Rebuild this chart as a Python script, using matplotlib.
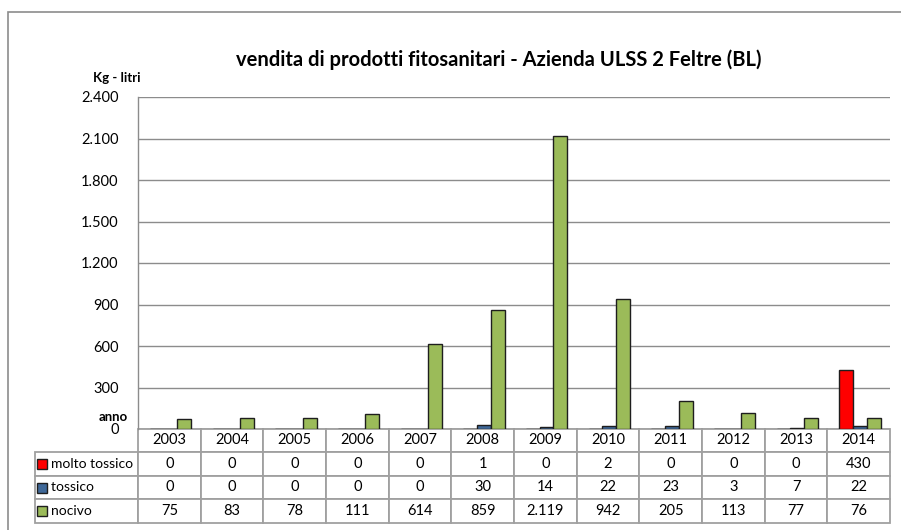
import matplotlib
matplotlib.use("Agg")
import matplotlib.pyplot as plt
import numpy as np
from matplotlib.patches import Rectangle

plt.rcParams['font.family'] = ['Lato', 'DejaVu Sans']

years = ["2003", "2004", "2005", "2006", "2007", "2008",
         "2009", "2010", "2011", "2012", "2013", "2014"]
series_names = ["molto tossico", "tossico", "nocivo"]
molto_tossico = [0, 0, 0, 0, 0, 1, 0, 2, 0, 0, 0, 430]
tossico = [0, 0, 0, 0, 0, 30, 14, 22, 23, 3, 7, 22]
nocivo = [75, 83, 78, 111, 614, 859, 2119, 942, 205, 113, 77, 76]
colors = ["#FF0000", "#3F6898", "#9BBB59"]
yticks = [0, 300, 600, 900, 1200, 1500, 1800, 2100, 2400]


def it_fmt(v):
    return f"{v:,}".replace(",", ".")


W, H = 901, 530
fig = plt.figure(figsize=(W / 100, H / 100), dpi=100)

# outer chart frame (right/bottom run past the picture)
fig.patches.append(Rectangle((8 / W, -0.1), 1.2, 1.1 - 12 / H,
                             transform=fig.transFigure, fill=False,
                             edgecolor="#8c8c8c", linewidth=1.2, zorder=0))

ax_l, ax_r, ax_t, ax_b = 138, 890, 97, 429
aw, ah = ax_r - ax_l, ax_b - ax_t
ax = fig.add_axes([ax_l / W, 1 - ax_b / H, aw / W, ah / H])

x = np.arange(len(years))
bw = 0.22
data = [molto_tossico, tossico, nocivo]
for i, (vals, c) in enumerate(zip(data, colors)):
    ax.bar(x + (i - 1) * bw + 0.02, vals, bw, color=c,
           edgecolor="#1e1e1e", linewidth=1.0, zorder=3)

ax.set_xlim(-0.5, len(years) - 0.5)
ax.set_ylim(0, 2400)
ax.set_yticks(yticks)
ax.set_yticklabels([it_fmt(v) for v in yticks], fontsize=10.5)
ax.tick_params(axis="y", length=0, pad=14)
ax.set_xticks([])
ax.grid(axis="y", color="#8c8c8c", linewidth=1.0, zorder=0)
for s in ["top", "right", "bottom"]:
    ax.spines[s].set_visible(False)
ax.spines["left"].set_color("#8c8c8c")
ax.spines["left"].set_linewidth(1.0)

# data table below the bars (bbox covers the data cells only)
cell_text = [[it_fmt(v) for v in row] for row in data]
row_labels = ["    " + n for n in series_names]
tbl_h = (523 - ax_b) / ah
label_w = 102.75 / aw  # ends up ~106 px after the table's bbox scaling
tbl = ax.table(cellText=cell_text, rowLabels=row_labels, colLabels=years,
               cellLoc="center", rowLoc="left", bbox=[0, -tbl_h, 1, tbl_h])
tbl._autoColumns = []  # keep the fixed width of the row label column
tbl.auto_set_font_size(False)
tbl.set_fontsize(10.5)
for (r, c), cell in tbl.get_celld().items():
    cell.set_edgecolor("#a0a0a0")
    cell.set_linewidth(1.3)
    cell.set_width(label_w if c == -1 else 1 / len(years))
    cell.set_height((23 if r == 0 else 24) / ah)
    if c == -1:
        cell.PAD = 0.02
        cell.get_text().set_fontsize(10)

# legend keys in the row label cells
row_centers = [464, 488, 511]
for yc, c in zip(row_centers, colors):
    fig.patches.append(Rectangle((37 / W, 1 - (yc + 5) / H), 10 / W, 10 / H,
                                 transform=fig.transFigure, facecolor=c,
                                 edgecolor="#1e1e1e", linewidth=1.0, zorder=5))

fig.text(499 / W, 1 - 60 / H, "vendita di prodotti fitosanitari - Azienda ULSS 2 Feltre (BL)",
         ha="center", va="center", fontsize=14.5, fontweight="bold")
fig.text(117 / W, 1 - 78 / H, "Kg - litri", ha="center", va="center",
         fontsize=9.5, fontweight="bold")
fig.text(128 / W, 1 - 417 / H, "anno", ha="right", va="center",
         fontsize=9.5, fontweight="bold")

fig.savefig("out.png", dpi=100)
